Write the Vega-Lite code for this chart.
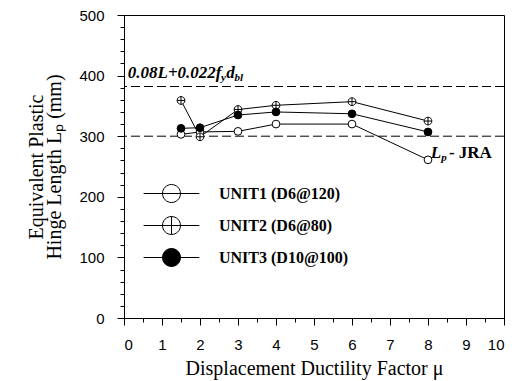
{
  "$schema": "https://vega.github.io/schema/vega-lite/v6.json",
  "width": 380,
  "height": 303,
  "autosize": "none",
  "padding": {"left": 124, "top": 15, "right": 27, "bottom": 63},
  "background": "white",
  "config": {
    "view": {"stroke": "black", "strokeWidth": 1},
    "axis": {
      "grid": false,
      "domainColor": "black",
      "tickColor": "black",
      "labelColor": "black",
      "titleColor": "black",
      "labelFont": "Liberation Sans",
      "labelFontSize": 15,
      "titleFont": "Liberation Serif",
      "titleFontSize": 20,
      "titleFontWeight": "normal"
    }
  },
  "datasets": {
    "units": [
      {"mu": 1.5, "Lp": 303, "unit": "UNIT1 (D6@120)"},
      {"mu": 2, "Lp": 307, "unit": "UNIT1 (D6@120)"},
      {"mu": 3, "Lp": 308, "unit": "UNIT1 (D6@120)"},
      {"mu": 4, "Lp": 320, "unit": "UNIT1 (D6@120)"},
      {"mu": 6, "Lp": 320, "unit": "UNIT1 (D6@120)"},
      {"mu": 8, "Lp": 261, "unit": "UNIT1 (D6@120)"},
      {"mu": 1.5, "Lp": 359, "unit": "UNIT2 (D6@80)"},
      {"mu": 2, "Lp": 299, "unit": "UNIT2 (D6@80)"},
      {"mu": 3, "Lp": 344, "unit": "UNIT2 (D6@80)"},
      {"mu": 4, "Lp": 351, "unit": "UNIT2 (D6@80)"},
      {"mu": 6, "Lp": 357, "unit": "UNIT2 (D6@80)"},
      {"mu": 8, "Lp": 325, "unit": "UNIT2 (D6@80)"},
      {"mu": 1.5, "Lp": 313, "unit": "UNIT3 (D10@100)"},
      {"mu": 2, "Lp": 314, "unit": "UNIT3 (D10@100)"},
      {"mu": 3, "Lp": 335, "unit": "UNIT3 (D10@100)"},
      {"mu": 4, "Lp": 340, "unit": "UNIT3 (D10@100)"},
      {"mu": 6, "Lp": 337, "unit": "UNIT3 (D10@100)"},
      {"mu": 8, "Lp": 307, "unit": "UNIT3 (D10@100)"}
    ],
    "refs": [{"Lp": 382}, {"Lp": 300}]
  },
  "layer": [
    {
      "data": {"name": "refs"},
      "mark": {"type": "rule", "stroke": "black", "strokeWidth": 1, "strokeDash": [9, 4]},
      "encoding": {"y": {"field": "Lp", "type": "quantitative", "scale": {"domain": [0, 500], "nice": false}, "axis": null}}
    },
    {
      "data": {"name": "units"},
      "mark": {"type": "line", "stroke": "black", "strokeWidth": 1},
      "encoding": {
        "x": {"field": "mu", "type": "quantitative", "scale": {"domain": [0, 10], "nice": false},
          "axis": {"orient": "bottom", "values": [0.5,1.5,2.5,3.5,4.5,5.5,6.5,7.5,8.5,9.5], "labels": false, "domain": false, "tickSize": 4, "title": null}},
        "y": {"field": "Lp", "type": "quantitative", "scale": {"domain": [0, 500], "nice": false},
          "axis": {"orient": "left", "values": [20,40,60,80,120,140,160,180,220,240,260,280,320,340,360,380,420,440,460,480], "labels": false, "domain": false, "tickSize": 4, "title": null}},
        "detail": {"field": "unit"}
      }
    },
    {
      "data": {"name": "units"},
      "mark": {"type": "point", "filled": true, "stroke": "black", "strokeWidth": 1, "size": 60, "opacity": 1},
      "encoding": {
        "x": {"field": "mu", "type": "quantitative", "scale": {"domain": [0, 10], "nice": false},
          "axis": {"orient": "bottom", "values": [0,1,2,3,4,5,6,7,8,9,10], "tickSize": 7, "labelPadding": 12, "title": "Displacement Ductility Factor  μ", "titlePadding": 6}},
        "y": {"field": "Lp", "type": "quantitative", "scale": {"domain": [0, 500], "nice": false},
          "axis": {"orient": "left", "values": [0,100,200,300,400,500], "tickSize": 7, "labelPadding": 13, "title": ["Equivalent Plastic", "Hinge Length  Lₚ (mm)"], "titleLineHeight": 18, "titlePadding": 14}},
        "shape": {"field": "unit", "type": "nominal", "legend": null,
          "scale": {"domain": ["UNIT1 (D6@120)", "UNIT2 (D6@80)", "UNIT3 (D10@100)"],
            "range": ["circle", "M1,0A1,1,0,1,1,-1,0A1,1,0,1,1,1,0ZM0,-1L0,1M-1,0L1,0", "circle"]}},
        "fill": {"field": "unit", "type": "nominal", "legend": null,
          "scale": {"domain": ["UNIT1 (D6@120)", "UNIT2 (D6@80)", "UNIT3 (D10@100)"], "range": ["white", "white", "black"]}}
      }
    },
    {
      "data": {"name": "units"},
      "transform": [{"filter": "datum.mu < 0"}],
      "mark": {"type": "point", "filled": false, "strokeWidth": 1, "size": 60, "opacity": 1},
      "encoding": {
        "x": {"field": "mu", "type": "quantitative", "axis": null},
        "y": {"field": "Lp", "type": "quantitative", "axis": null},
        "shape": {"field": "unit", "type": "nominal", "title": null,
          "scale": {"domain": ["UNIT1 (D6@120)", "UNIT2 (D6@80)", "UNIT3 (D10@100)"],
            "range": ["M-3.1,0L3.1,0M1,0A1,1,0,1,1,-1,0A1,1,0,1,1,1,0Z", "M-3.1,0L3.1,0M1,0A1,1,0,1,1,-1,0A1,1,0,1,1,1,0ZM0,-1L0,1", "M-3.1,0L3.1,0M1,0A1,1,0,1,1,-1,0A1,1,0,1,1,1,0Z"]},
          "legend": {"orient": "none", "legendX": 38, "legendY": 169, "padding": 0, "symbolSize": 324, "symbolStrokeWidth": 1, "labelOffset": 38, "rowPadding": 9, "labelFont": "Liberation Serif", "labelFontWeight": "bold", "labelFontSize": 16, "labelColor": "black", "symbolOffset": 0}},
        "stroke": {"field": "unit", "type": "nominal", "title": null,
          "scale": {"domain": ["UNIT1 (D6@120)", "UNIT2 (D6@80)", "UNIT3 (D10@100)"], "range": ["black", "black", "black"]}},
        "fill": {"field": "unit", "type": "nominal", "title": null,
          "scale": {"domain": ["UNIT1 (D6@120)", "UNIT2 (D6@80)", "UNIT3 (D10@100)"], "range": ["white", "white", "black"]}}
      }
    },
    {
      "data": {"values": [{"x": 0.1, "y": 396, "t": "0.08L+0.022f"}, {"x": 2.69, "y": 396, "t": "d"}, {"x": 8.07, "y": 264, "t": "L"}]},
      "mark": {"type": "text", "align": "left", "baseline": "alphabetic", "font": "Liberation Serif", "fontWeight": "bold", "fontStyle": "italic", "fontSize": 17, "color": "black"},
      "encoding": {"x": {"field": "x", "type": "quantitative", "axis": null}, "y": {"field": "y", "type": "quantitative", "axis": null}, "text": {"field": "t"}}
    },
    {
      "data": {"values": [{"x": 2.55, "y": 396, "t": "y"}, {"x": 2.91, "y": 396, "t": "bl"}, {"x": 8.35, "y": 264, "t": "p"}]},
      "mark": {"type": "text", "align": "left", "baseline": "alphabetic", "dy": 3, "font": "Liberation Serif", "fontWeight": "bold", "fontStyle": "italic", "fontSize": 11, "color": "black"},
      "encoding": {"x": {"field": "x", "type": "quantitative", "axis": null}, "y": {"field": "y", "type": "quantitative", "axis": null}, "text": {"field": "t"}}
    },
    {
      "data": {"values": [{"x": 8.55, "y": 264, "t": "- JRA"}]},
      "mark": {"type": "text", "align": "left", "baseline": "alphabetic", "font": "Liberation Serif", "fontWeight": "bold", "fontSize": 17, "color": "black"},
      "encoding": {"x": {"field": "x", "type": "quantitative", "axis": null}, "y": {"field": "y", "type": "quantitative", "axis": null}, "text": {"field": "t"}}
    }
  ],
  "resolve": {"scale": {"shape": "independent", "fill": "independent", "stroke": "independent"}, "axis": {"x": "independent", "y": "independent"}}
}
